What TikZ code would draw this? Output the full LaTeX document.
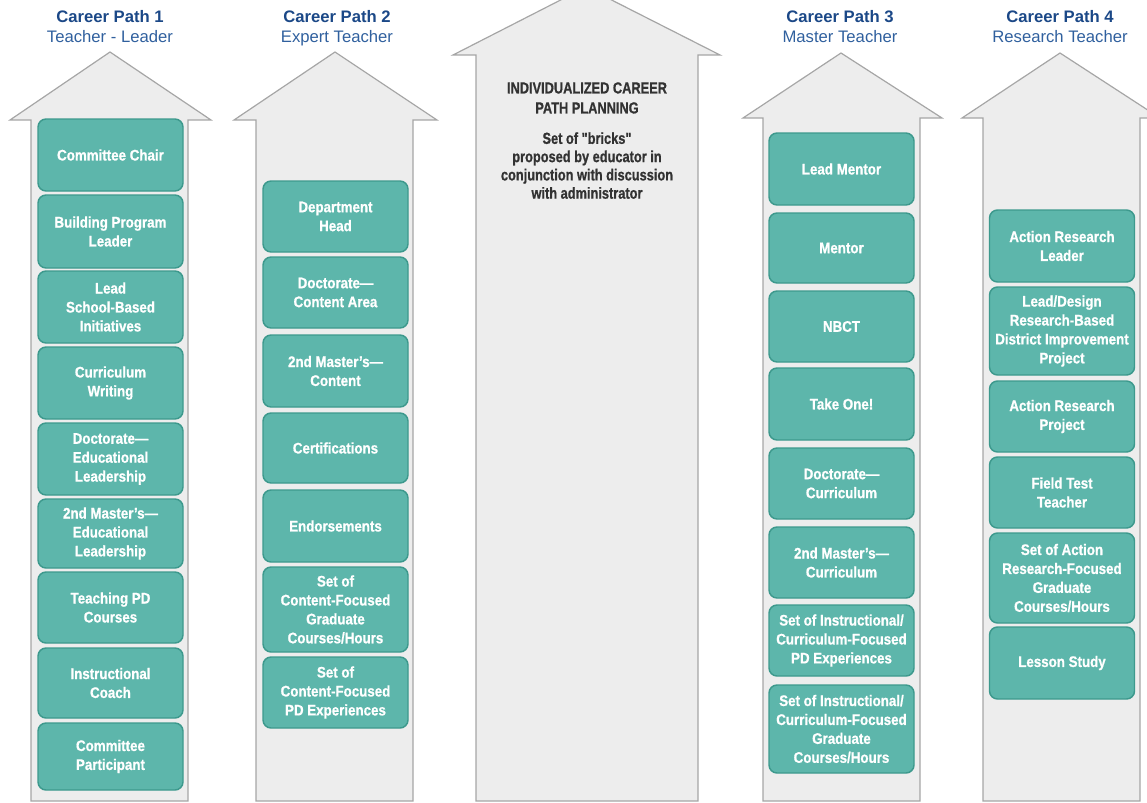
\documentclass[tikz,border=0pt]{standalone}
\usepackage{fontspec}
\setmainfont{Liberation Sans}
\newfontfamily\brickfont[FakeStretch=0.87,FakeBold=0.8]{Liberation Sans}
\newfontfamily\planfont[FakeStretch=0.8,FakeBold=0.8]{Liberation Sans}
\usepackage{tikz}
\definecolor{shaft}{RGB}{237,237,237}
\definecolor{shaftline}{RGB}{166,166,166}
\definecolor{brick}{RGB}{93,182,171}
\definecolor{brickline}{RGB}{61,153,141}
\definecolor{pathblue}{RGB}{27,72,135}
\definecolor{subblue}{RGB}{48,96,158}
\definecolor{plangray}{RGB}{50,50,50}

\tikzset{
  careerarrow/.style={fill=shaft, draw=shaftline, line width=0.9pt},
  brickbox/.style={draw=brickline, fill=brick, line width=1.1pt, rounded corners=6pt,
    text=white, align=center, inner sep=0pt, minimum width=108.75pt,
    font=\brickfont\bfseries\fontsize{11.5}{14.2}\selectfont},
  pathtitle/.style={anchor=base, text=pathblue, font=\bfseries\fontsize{12.5}{15}\selectfont},
  pathsub/.style={anchor=base, text=subblue, font=\fontsize{12.5}{15}\selectfont},
  plantext/.style={anchor=north, inner sep=0pt, align=center, text=plangray}
}
% one brick: name, centre x, top, bottom, text
\newcommand{\brick}[5]{\node[brickbox, minimum height={(#4-#3)*0.75pt}] (#1) at (#2,{(#3+#4)/2}) {#5};}

\begin{document}
\begin{tikzpicture}[x=0.75pt, y=-0.75pt]
\useasboundingbox (0,0) rectangle (1147,803);
\clip (0,0) rectangle (1147,803);

% the five arrows
\filldraw[careerarrow] (31,801)--(31,120)--(10,120)--(110,52)--(211,120)--(188,120)--(188,801)--cycle;
\filldraw[careerarrow] (256,801)--(256,120)--(234,120)--(335,52)--(437,120)--(413,120)--(413,801)--cycle;
\filldraw[careerarrow] (476,801)--(476,55)--(453,55)--(586,-13)--(720,55)--(698,55)--(698,801)--cycle;
\filldraw[careerarrow] (763,801)--(763,118)--(743,118)--(841,53)--(942,118)--(920,118)--(920,801)--cycle;
\filldraw[careerarrow] (983,801)--(983,118)--(962,118)--(1060,53)--(1160,118)--(1140,118)--(1140,801)--cycle;

% headings
\node[pathtitle] (title1) at (110,22) {Career Path 1};
\node[pathsub] (sub1) at (110,42) {Teacher - Leader};
\node[pathtitle] (title2) at (337,22) {Career Path 2};
\node[pathsub] (sub2) at (337,42) {Expert Teacher};
\node[pathtitle] (title3) at (840,22) {Career Path 3};
\node[pathsub] (sub3) at (840,42) {Master Teacher};
\node[pathtitle] (title4) at (1060,22) {Career Path 4};
\node[pathsub] (sub4) at (1060,42) {Research Teacher};

% middle arrow
\node[plantext, font=\planfont\bfseries\fontsize{12}{15}\selectfont] (plan) at (587,82)
  {INDIVIDUALIZED CAREER\\PATH PLANNING};
\node[plantext, font=\planfont\bfseries\fontsize{12}{13.7}\selectfont] (bricks) at (587,132)
  {Set of "bricks"\\proposed by educator in\\conjunction with discussion\\with administrator};

% path 1
\brick{p1a}{110.5}{119}{191}{Committee Chair}
\brick{p1b}{110.5}{195}{268}{Building Program\\Leader}
\brick{p1c}{110.5}{271}{343}{Lead\\School-Based\\Initiatives}
\brick{p1d}{110.5}{347}{419}{Curriculum\\Writing}
\brick{p1e}{110.5}{423}{495}{Doctorate—\\Educational\\Leadership}
\brick{p1f}{110.5}{499}{568}{2nd Master’s—\\Educational\\Leadership}
\brick{p1g}{110.5}{572}{643}{Teaching PD\\Courses}
\brick{p1h}{110.5}{648}{718}{Instructional\\Coach}
\brick{p1i}{110.5}{723}{790}{Committee\\Participant}

% path 2
\brick{p2a}{335.5}{181}{252}{Department\\Head}
\brick{p2b}{335.5}{257}{328}{Doctorate—\\Content Area}
\brick{p2c}{335.5}{335}{407}{2nd Master’s—\\Content}
\brick{p2d}{335.5}{413}{483}{Certifications}
\brick{p2e}{335.5}{490}{562}{Endorsements}
\brick{p2f}{335.5}{567}{652}{Set of\\Content-Focused\\Graduate\\Courses/Hours}
\brick{p2g}{335.5}{657}{728}{Set of\\Content-Focused\\PD Experiences}

% path 3
\brick{p3a}{841.5}{133}{205}{Lead Mentor}
\brick{p3b}{841.5}{213}{283}{Mentor}
\brick{p3c}{841.5}{291}{362}{NBCT}
\brick{p3d}{841.5}{368}{440}{Take One!}
\brick{p3e}{841.5}{448}{519}{Doctorate—\\Curriculum}
\brick{p3f}{841.5}{527}{598}{2nd Master’s—\\Curriculum}
\brick{p3g}{841.5}{605}{676}{Set of Instructional/\\Curriculum-Focused\\PD Experiences}
\brick{p3h}{841.5}{685}{773}{Set of Instructional/\\Curriculum-Focused\\Graduate\\Courses/Hours}

% path 4
\brick{p4a}{1062}{210}{282}{Action Research\\Leader}
\brick{p4b}{1062}{287}{375}{Lead/Design\\Research-Based\\District Improvement\\Project}
\brick{p4c}{1062}{381}{452}{Action Research\\Project}
\brick{p4d}{1062}{457}{528}{Field Test\\Teacher}
\brick{p4e}{1062}{533}{623}{Set of Action\\Research-Focused\\Graduate\\Courses/Hours}
\brick{p4f}{1062}{627}{699}{Lesson Study}
\end{tikzpicture}
\end{document}
